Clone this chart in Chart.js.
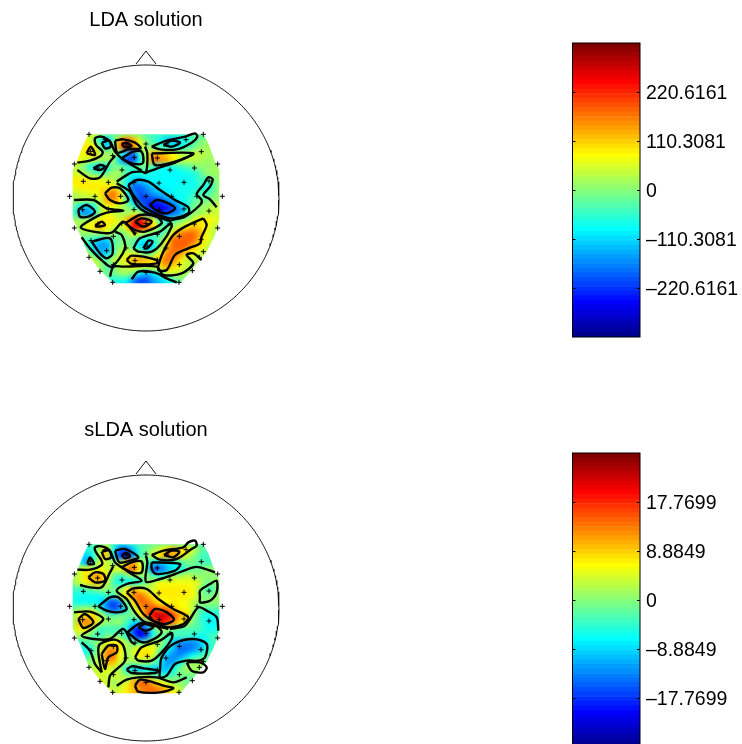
<!DOCTYPE html>
<html lang="en">
<head>
<meta charset="UTF-8">
<title>LDA and sLDA solutions</title>
<script src="https://cdn.jsdelivr.net/npm/chart.js@4"></script>
<style>
  html, body { margin: 0; padding: 0; background: #fff; overflow: hidden; width: 742px; height: 744px; }
  canvas { position: absolute; }
  #ldaMap { left: 0; top: 0; }
  #sldaMap { left: 0; top: 410px; }
  #ldaBar { left: 560px; top: 30px; }
  #sldaBar { left: 560px; top: 440px; }
</style>
</head>
<body>
<canvas id="ldaMap" width="292" height="350"></canvas>
<canvas id="sldaMap" width="292" height="350"></canvas>
<canvas id="ldaBar" width="182" height="320"></canvas>
<canvas id="sldaBar" width="182" height="320"></canvas>
<script>
/************ DATA ************/
const ldaTitle = 'LDA solution';
const sldaTitle = 'sLDA solution';
const ldaLimit = 330.9243;
const sldaLimit = 26.6547;
const ldaTicks = [-220.6161, -110.3081, 0, 110.3081, 220.6161];
const sldaTicks = [-17.7699, -8.8849, 0, 8.8849, 17.7699];

// MATLAB jet, 64 levels
const jetColors = [
  '#00008f','#00009f','#0000af','#0000bf','#0000cf','#0000df','#0000ef','#0000ff',
  '#0010ff','#0020ff','#0030ff','#0040ff','#0050ff','#0060ff','#0070ff','#0080ff',
  '#008fff','#009fff','#00afff','#00bfff','#00cfff','#00dfff','#00efff','#00ffff',
  '#10ffef','#20ffdf','#30ffcf','#40ffbf','#50ffaf','#60ff9f','#70ff8f','#80ff80',
  '#8fff70','#9fff60','#afff50','#bfff40','#cfff30','#dfff20','#efff10','#ffff00',
  '#ffef00','#ffdf00','#ffcf00','#ffbf00','#ffaf00','#ff9f00','#ff8f00','#ff8000',
  '#ff7000','#ff6000','#ff5000','#ff4000','#ff3000','#ff2000','#ff1000','#ff0000',
  '#ef0000','#df0000','#cf0000','#bf0000','#af0000','#9f0000','#8f0000','#800000'
];

// grid positions of the map cells
const cellXs = [40,60,80,100,120,140,160,180,200,220,240,260,280,300,320,340,360,380,400,420,440,460,480];
const cellYs = [40,60,80,100,120,140,160,180,200,220,240,260,280,300,320,340,360,380,400,420,440,460,480,500];

// map values, percent of the colour limit
const ldaCells = [
  [10,10,15,15,5,-5,-5,-5,0,0,-5,-10,-15,-15,-15,-15,-15,-15,-10,-10,-10,-5,-5],
  [15,15,20,5,-20,-35,-10,35,50,40,15,-5,-15,-25,-35,-38,-30,-20,-10,-5,0,0,0],
  [20,20,25,25,-5,-35,0,45,75,45,20,0,-5,-15,-25,-30,-25,-15,-8,0,5,5,5],
  [20,20,25,35,10,5,5,-10,-40,-55,-10,10,35,35,30,20,10,5,10,10,8,5,5],
  [25,20,10,10,5,5,0,-35,-60,-60,-25,10,50,45,38,25,15,10,10,8,5,5,5],
  [15,5,-10,-25,-35,-25,-5,-5,-15,-15,-5,-5,-15,-20,-20,-20,-15,-10,-5,0,0,5,5],
  [15,15,5,-5,-10,-5,5,5,-15,-25,-20,-20,-25,-28,-28,-28,-28,-25,-20,-10,0,5,5],
  [25,25,25,20,20,15,10,-5,-20,-35,-35,-30,-28,-28,-28,-28,-28,-25,-22,-15,-15,-5,5],
  [20,25,25,25,25,28,25,5,-25,-55,-55,-45,-35,-30,-28,-28,-25,-25,-22,-18,-22,-10,5],
  [10,15,18,20,25,40,50,30,-15,-50,-62,-55,-45,-38,-32,-28,-25,-22,-18,-15,-15,-5,5],
  [0,5,5,5,15,38,45,25,-10,-40,-60,-65,-65,-60,-50,-38,-28,-20,-10,-5,-5,0,5],
  [-5,-30,-35,-25,5,20,20,10,0,-15,-40,-65,-78,-80,-72,-60,-42,-25,-5,0,5,10,10],
  [-10,-40,-50,-35,5,20,15,8,5,15,10,-20,-55,-70,-62,-55,-45,-20,0,5,10,15,15],
  [5,5,5,15,25,28,25,15,35,60,70,50,20,-15,-20,-15,-5,5,15,25,25,20,15],
  [10,5,20,25,40,25,15,10,30,70,80,55,30,-5,-10,5,15,25,35,30,22,15,10],
  [5,5,0,5,5,10,5,-5,5,20,15,5,-5,-15,-5,30,45,50,50,40,20,10,10],
  [0,-5,-10,-20,-35,-35,-10,-5,-5,-5,-30,-25,-20,-5,20,50,55,55,50,35,20,10,10],
  [0,-5,-15,-35,-45,-45,-15,0,5,-10,-30,-45,-30,0,35,50,55,50,35,25,15,5,5],
  [5,5,10,-15,-35,-35,-10,10,15,15,5,-10,0,20,45,50,45,30,20,15,10,5,5],
  [10,10,15,10,0,-10,10,15,30,40,40,35,30,35,50,45,30,15,10,10,5,5,5],
  [10,10,10,10,5,-10,-5,10,10,20,20,15,20,30,40,30,20,10,5,5,5,5,5],
  [5,5,5,5,0,-5,-5,0,5,-5,-30,-40,-30,-15,10,15,10,5,0,5,5,5,5],
  [5,5,5,5,0,-10,-20,-20,-25,-50,-60,-60,-45,-35,-25,-15,-5,0,0,5,5,5,5],
  [5,5,5,5,0,-10,-20,-30,-35,-50,-60,-55,-45,-40,-35,-20,-5,0,0,5,5,5,5]
];
const sldaCells = [
  [-10,-10,-10,-12,-10,-5,-15,-20,-20,-15,-10,-10,-8,-8,-8,-10,-10,-10,-10,-10,-10,-10,-10],
  [-15,-15,-20,-15,10,25,-20,-55,-55,-35,-15,-5,5,15,30,35,30,25,15,-5,-10,-10,-10],
  [-20,-25,-35,-20,10,35,-25,-65,-75,-45,-15,-5,15,30,45,40,30,15,0,-10,-15,-15,-15],
  [-10,-25,-45,-15,15,15,0,5,25,40,15,-5,-30,-40,-30,-20,-15,-5,-5,-10,-15,-15,-15],
  [0,15,20,15,20,15,15,20,45,52,25,-15,-60,-55,-42,-30,-22,-10,-5,-5,0,0,0],
  [5,15,30,38,40,25,-5,-15,-5,5,0,0,-15,-20,-15,5,5,10,5,0,0,0,0],
  [5,15,25,35,35,15,-15,-22,-25,-25,-18,-5,10,20,20,20,20,20,20,10,-5,0,0],
  [-15,-15,-10,-5,0,0,-5,0,25,35,25,15,15,25,25,25,25,25,20,5,-10,-10,0],
  [-20,-22,-22,-25,-22,-15,-15,5,25,45,50,40,25,25,25,28,28,25,20,5,-5,0,0],
  [-20,-25,-25,-25,-30,-50,-65,-50,-5,30,50,50,40,25,22,25,22,20,10,0,0,0,0],
  [-5,0,5,5,-15,-45,-60,-50,-20,10,35,50,60,55,50,35,28,22,8,-8,-12,-12,-12],
  [0,25,30,30,10,-5,-10,-5,-5,-5,20,50,75,85,75,60,40,32,5,-15,-22,-22,-20],
  [5,40,48,35,10,0,0,0,-15,-30,-35,-10,45,70,60,48,30,15,-5,-15,-25,-28,-25],
  [10,25,30,5,-15,-15,-15,-15,-20,-60,-75,-55,-15,5,5,-5,-10,-10,-10,-15,-25,-25,-20],
  [10,5,0,-10,-15,-5,-5,-5,-20,-55,-80,-60,-20,-5,-10,-15,-15,-15,-20,-25,-20,-15,-10],
  [-15,-15,-10,-5,5,15,25,20,5,-5,-15,-5,10,5,-10,-35,-45,-50,-50,-40,-25,-15,-15],
  [-20,-20,-25,-15,10,40,45,25,5,10,25,25,20,-5,-25,-40,-55,-55,-50,-40,-20,-15,-10],
  [-20,-20,-15,-5,15,45,50,20,5,15,25,30,15,-15,-40,-50,-50,-35,-25,-15,-10,-5,-5],
  [-10,-10,0,5,15,40,35,15,5,0,5,5,-5,-25,-45,-45,-25,-5,5,5,-5,-5,-5],
  [-5,-5,5,10,15,20,10,5,-25,-35,-35,-30,-35,-35,-40,-25,-5,5,5,5,0,-5,-5],
  [5,5,10,15,15,10,15,10,0,0,5,5,-5,-15,-20,-10,-5,-5,-5,-5,-5,-5,-5],
  [5,5,10,15,20,15,5,10,15,40,50,50,35,25,15,5,0,-5,-5,-5,-5,-5,-5],
  [5,5,10,15,15,15,10,15,25,35,45,50,50,45,35,20,10,0,0,-5,-5,-5,-5],
  [5,5,10,15,15,15,15,20,25,35,45,50,50,45,35,20,10,0,0,-5,-5,-5,-5]
];

// contour lines, [x, y] pairs
const ldaContours = [
  [[165,62],[190,58],[225,68],[242,85],[205,88],[172,98],[165,62]],
  [[185,72],[200,68],[215,78],[195,82],[185,72]],
  [[52,128],[90,122],[122,108],[128,95],[108,75],[105,55],[125,50],[150,65],[165,95],[185,115],[215,135],[245,152]],
  [[185,115],[220,95],[245,95],[248,130],[215,130],[185,115]],
  [[125,68],[148,62],[152,80],[135,85],[125,68]],
  [[80,100],[92,80],[105,105],[80,100]],
  [[100,145],[120,135],[135,140],[120,150],[100,145]],
  [[52,150],[90,175],[120,172],[150,125],[165,108]],
  [[170,185],[215,157],[245,155],[258,158],[262,100],[255,80]],
  [[258,158],[300,142],[345,128],[400,103]],
  [[275,100],[400,100],[345,125],[285,135],[275,100]],
  [[275,80],[320,62],[375,50],[405,40],[412,50],[395,68],[350,88],[300,88],[275,80]],
  [[310,75],[335,62],[360,68],[335,80],[310,75]],
  [[205,195],[230,180],[265,185],[300,210],[345,240],[385,262],[385,280],[340,295],[310,290],[250,260],[220,225],[205,195]],
  [[270,255],[290,240],[320,248],[345,265],[320,280],[290,272],[270,255]],
  [[170,190],[210,215],[230,255],[255,275],[320,300],[335,303]],
  [[335,300],[375,290],[420,255],[425,240],[410,222],[430,195],[445,172],[458,178],[450,200],[430,225],[450,238],[470,262]],
  [[135,220],[155,203],[180,205],[205,240],[180,250],[150,240],[135,220]],
  [[42,240],[100,240],[140,265],[190,272],[140,278],[100,295],[62,322],[100,335],[155,338],[190,305],[220,335],[225,345]],
  [[195,310],[240,285],[290,290],[305,310],[255,335],[225,330],[195,310]],
  [[225,305],[245,295],[275,305],[250,320],[225,305]],
  [[55,268],[80,255],[105,275],[85,290],[60,290],[55,268]],
  [[105,318],[125,305],[135,315],[115,320],[105,318]],
  [[95,365],[150,355],[158,400],[140,415],[120,400],[95,365]],
  [[65,352],[90,385],[130,425],[155,440],[195,385],[185,345],[165,335]],
  [[220,385],[240,355],[300,335],[332,310],[335,320],[305,370],[275,395],[235,395],[220,385]],
  [[250,385],[265,362],[278,365],[262,385],[250,385]],
  [[430,295],[440,315],[425,350],[420,370],[385,385],[345,405],[320,450],[295,450],[300,420],[315,385],[340,345],[375,320],[430,295]],
  [[200,420],[215,407],[290,420],[290,430],[215,432],[200,420]],
  [[150,470],[160,440],[190,440],[290,440],[310,465],[365,460],[400,430],[380,405],[400,400],[425,420]],
  [[215,478],[235,455],[285,458],[320,475],[350,487]]
];
const sldaContours = [
  [[165,65],[195,60],[235,85],[210,95],[178,100],[165,65]],
  [[185,78],[200,72],[210,82],[195,88],[185,78]],
  [[125,68],[148,65],[153,85],[135,90],[125,68]],
  [[52,122],[90,122],[125,108],[125,95],[108,70],[105,55],[125,52],[150,65],[165,100],[185,115],[215,135],[245,155],[200,165],[170,185],[200,210],[225,250],[255,280],[325,300]],
  [[82,105],[90,85],[102,105],[82,105]],
  [[85,145],[105,130],[130,135],[135,155],[105,160],[85,145]],
  [[60,168],[90,175],[125,175],[150,130],[160,112]],
  [[185,115],[215,100],[245,98],[245,130],[215,130],[185,115]],
  [[258,80],[262,100],[258,158],[300,150],[345,135],[400,115],[420,115],[465,130]],
  [[275,100],[360,105],[345,125],[290,135],[275,120],[275,100]],
  [[275,78],[310,65],[370,55],[385,40],[405,35],[410,50],[395,60],[350,90],[300,92],[275,78]],
  [[312,78],[335,65],[358,68],[340,85],[312,78]],
  [[200,190],[220,178],[260,180],[295,210],[340,240],[385,265],[370,285],[330,295],[295,285],[250,255],[225,215],[200,190]],
  [[268,260],[285,240],[320,250],[342,272],[315,285],[280,275],[268,260]],
  [[420,205],[420,185],[450,165],[470,155],[470,190],[450,215],[420,220],[420,205]],
  [[330,300],[375,290],[415,235],[440,245],[470,265],[475,305]],
  [[115,232],[150,205],[175,205],[200,240],[170,250],[140,245],[115,232]],
  [[42,250],[90,248],[130,270],[95,300],[65,320],[100,330],[150,330],[190,300],[215,340],[225,345]],
  [[55,270],[75,255],[100,280],[70,297],[55,270]],
  [[202,310],[240,283],[280,285],[305,310],[265,338],[240,338],[202,310]],
  [[235,295],[255,285],[280,295],[255,305],[235,295]],
  [[125,375],[145,350],[170,350],[170,370],[145,385],[135,420],[125,375]],
  [[145,475],[150,440],[165,425],[195,395],[190,350],[165,332],[120,345],[115,370],[125,430]],
  [[65,340],[90,365],[105,405],[125,430]],
  [[225,385],[245,355],[300,335],[335,312],[335,330],[305,370],[275,395],[235,395],[225,385]],
  [[300,420],[305,385],[340,345],[400,330],[440,345],[435,385],[415,395],[380,395],[345,405],[320,440],[300,445],[300,420]],
  [[380,400],[420,400],[440,415],[430,430],[395,425],[380,400]],
  [[200,422],[215,412],[250,418],[295,425],[285,432],[215,432],[200,422]],
  [[170,470],[200,452],[235,445],[290,445],[340,460],[380,445]],
  [[225,470],[240,452],[280,460],[310,470],[340,478],[300,490],[235,488],[225,470]]
];

// electrodes, same for both maps
const electrodeXs = [87,430,135,258,378,320,92,200,424,158,223,292,43,473,113,186,330,403,70,145,222,297,372,447,29,105,182,258,335,411,487,68,145,222,298,372,447,43,113,185,258,330,403,473,93,160,225,292,358,423,198,262,318,87,140,430,160,225,292,358,418,120,258,397,158,357];
const electrodeYs = [43,43,59,72,59,72,94,75,95,107,112,114,132,132,144,150,150,144,184,187,187,189,187,183,229,229,229,229,229,229,229,269,267,269,269,267,273,324,312,310,310,310,312,324,362,349,339,343,349,359,384,379,384,412,392,395,434,422,420,434,412,454,457,452,487,487];

// outline of the interpolated region
const outlineXs = [85,430,445,465,478,478,465,440,395,360,160,120,85,65,45,38,38,50,70];
const outlineYs = [43,43,70,125,150,300,345,395,450,490,490,450,405,355,310,295,150,125,75];

// head drawing
const headCenter = [258, 234];
const headRadius = 399;
const noseXs = [228, 258, 288];
const noseYs = [-168, -207, -168];

/************ TOPOGRAPHY ************/
function jetRgb(percent) {
  let idx = Math.floor((percent + 100) / 200 * 64);
  idx = Math.max(0, Math.min(63, idx));
  const h = jetColors[idx];
  return [parseInt(h.slice(1, 3), 16), parseInt(h.slice(3, 5), 16), parseInt(h.slice(5, 7), 16)];
}

// paints the cells dataset as a smoothed image, placed through the chart scales
const cellImagePlugin = {
  id: 'cellImage',
  beforeDatasetsDraw(chart) {
    const cfg = chart.options.plugins.cellImage;
    const sx = chart.scales.x, sy = chart.scales.y, ctx = chart.ctx;
    const off = document.createElement('canvas');
    off.width = cellXs.length;
    off.height = cellYs.length;
    const octx = off.getContext('2d');
    const img = octx.createImageData(off.width, off.height);
    chart.data.datasets[0].data.forEach((c, i) => {
      const rgb = jetRgb(c.v);
      img.data.set([rgb[0], rgb[1], rgb[2], 255], i * 4);
    });
    octx.putImageData(img, 0, 0);
    ctx.save();
    ctx.beginPath();
    outlineXs.forEach((x, i) => {
      ctx.lineTo(sx.getPixelForValue(x), sy.getPixelForValue(outlineYs[i]));
    });
    ctx.closePath();
    ctx.clip();
    ctx.imageSmoothingEnabled = true;
    ctx.imageSmoothingQuality = 'high';
    const left = sx.getPixelForValue(cellXs[0] - 10);
    const right = sx.getPixelForValue(cellXs[cellXs.length - 1] + 10);
    const top = sy.getPixelForValue(cellYs[0] - 10 + cfg.dy);
    const bottom = sy.getPixelForValue(cellYs[cellYs.length - 1] + 10 + cfg.dy);
    ctx.drawImage(off, left, top, right - left, bottom - top);
    ctx.restore();
  }
};

function renderMap(id, title, cells, contours, dy) {
  const cellPoints = [];
  cellYs.forEach((y, r) => cellXs.forEach((x, c) => cellPoints.push({ x: x, y: y + dy, v: cells[r][c] })));

  const headPoints = [];
  for (let a = 0; a <= 360; a += 1) {
    const t = a * Math.PI / 180;
    headPoints.push({ x: headCenter[0] + headRadius * Math.cos(t), y: headCenter[1] + headRadius * Math.sin(t) });
  }

  const datasets = [{ data: cellPoints, pointRadius: 0, showLine: false }];
  contours.forEach(line => datasets.push({
    data: line.map(p => ({ x: p[0], y: p[1] + dy })),
    showLine: true, borderColor: '#000', borderWidth: 2.4, tension: 0.3, pointRadius: 0
  }));
  datasets.push({
    data: electrodeXs.map((x, i) => ({ x: x, y: electrodeYs[i] })),
    pointStyle: 'cross', pointRadius: 2.5, borderColor: '#000', pointBorderWidth: 1, showLine: false
  });
  datasets.push({ data: headPoints, showLine: true, borderColor: '#111', borderWidth: 1, pointRadius: 0, clip: false });
  datasets.push({
    data: noseXs.map((x, i) => ({ x: x, y: noseYs[i] })),
    showLine: true, borderColor: '#111', borderWidth: 1, pointRadius: 0
  });

  new Chart(document.getElementById(id), {
    type: 'scatter',
    data: { datasets: datasets },
    plugins: [cellImagePlugin],
    options: {
      responsive: false,
      animation: false,
      events: [],
      layout: { padding: 0, autoPadding: false },
      plugins: {
        legend: { display: false },
        tooltip: { enabled: false },
        cellImage: { dy: dy },
        title: {
          display: true, text: title, color: '#000',
          font: { family: '"Liberation Sans", Helvetica, Arial, sans-serif', size: 20, weight: 'normal' },
          padding: { top: 8, bottom: 8 }
        }
      },
      scales: {
        x: { type: 'linear', display: false, min: -180, max: 696 },
        y: { type: 'linear', display: false, reverse: true, min: -240, max: 690 }
      }
    }
  });
}

/************ COLOUR BARS ************/
const barFramePlugin = {
  id: 'barFrame',
  afterDatasetsDraw(chart) {
    const a = chart.chartArea, ctx = chart.ctx, sy = chart.scales.y;
    ctx.save();
    ctx.strokeStyle = '#000';
    ctx.lineWidth = 1;
    sy.ticks.forEach(t => {
      const py = Math.round(sy.getPixelForValue(t.value)) + 0.5;
      ctx.beginPath();
      ctx.moveTo(a.left, py); ctx.lineTo(a.left + 3, py);
      ctx.moveTo(a.right - 3, py); ctx.lineTo(a.right, py);
      ctx.stroke();
    });
    ctx.strokeRect(a.left, a.top, a.right - a.left, a.bottom - a.top);
    ctx.restore();
  }
};

function renderBar(id, limit, ticks) {
  const step = 2 * limit / jetColors.length;
  const datasets = jetColors.map((c, i) => ({
    data: [[-limit + i * step, -limit + (i + 1) * step]],
    backgroundColor: c, borderWidth: 0, grouped: false,
    barPercentage: 1, categoryPercentage: 1
  }));
  new Chart(document.getElementById(id), {
    type: 'bar',
    data: { labels: [''], datasets: datasets },
    plugins: [barFramePlugin],
    options: {
      responsive: false,
      animation: false,
      events: [],
      layout: { padding: { left: 12.5, top: 13, bottom: 13, right: 0 }, autoPadding: false },
      plugins: { legend: { display: false }, tooltip: { enabled: false } },
      scales: {
        x: { display: false },
        y: {
          position: 'right', min: -limit, max: limit,
          grid: { display: false, drawTicks: false },
          border: { display: false },
          afterBuildTicks: scale => { scale.ticks = ticks.map(v => ({ value: v })); },
          afterFit: scale => { scale.width = 102; scale.paddingTop = 0; scale.paddingBottom = 0; },
          ticks: {
            autoSkip: false, padding: 6, labelOffset: 2, color: '#000',
            font: { family: '"Liberation Sans", Helvetica, Arial, sans-serif', size: 19.5 },
            callback: v => String(v).replace('-', '–')
          }
        }
      }
    }
  });
}

renderMap('ldaMap', ldaTitle, ldaCells, ldaContours, 0);
renderMap('sldaMap', sldaTitle, sldaCells, sldaContours, -3);
renderBar('ldaBar', ldaLimit, ldaTicks);
renderBar('sldaBar', sldaLimit, sldaTicks);
</script>
</body>
</html>
